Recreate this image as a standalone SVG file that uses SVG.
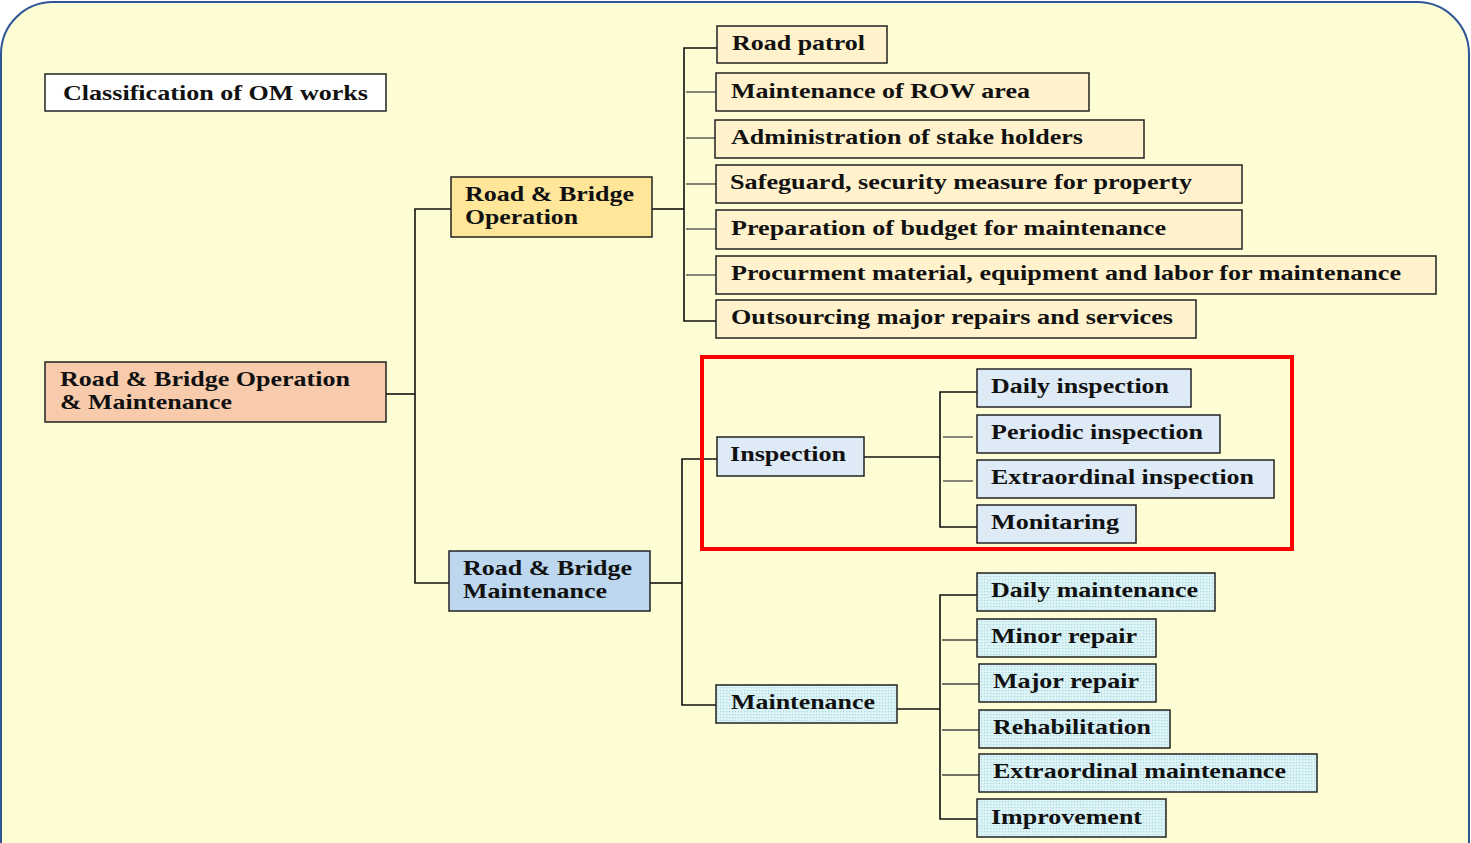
<svg xmlns="http://www.w3.org/2000/svg" width="1471" height="843" viewBox="0 0 1471 843">
  <defs>
    <pattern id="bgDots" width="4" height="4" patternUnits="userSpaceOnUse">
      <rect width="4" height="4" fill="#FEFDD0"/>
      <circle cx="1" cy="1" r="0.7" fill="#FFFFEE"/>
      <circle cx="3" cy="3" r="0.7" fill="#FFFFEE"/>
    </pattern>
    <pattern id="cyanGrid" width="3" height="3" patternUnits="userSpaceOnUse">
      <rect width="3" height="3" fill="#D8F1F4"/>
      <rect x="0" y="0" width="1" height="1" fill="#A8D8E0"/>
      <rect x="2" y="2" width="1" height="1" fill="#EAF8FA"/>
    </pattern>
    <style>
      .box { stroke: #222; stroke-width: 1.5; }
      .title { fill: #FFFFFF; }
      .root { fill: #F8CBAD; }
      .op { fill: #FFE699; }
      .opc { fill: #FFF2CC; }
      .mt { fill: #BDD7EE; }
      .ins { fill: #DEEBF7; }
      .mtc { fill: url(#cyanGrid); }
      text { font-family: "Liberation Serif", "Times New Roman", serif; font-weight: bold; font-size: 22px; fill: #111; }
      .conn line, .conn polyline { stroke: #111; stroke-width: 1.6; fill: none; }
      .conn .stub { stroke: #444; stroke-width: 1.3; }
    </style>
  </defs>

  <!-- page background -->
  <rect width="1471" height="843" fill="#FFFFFF"/>
  <rect x="1" y="2" width="1468" height="900" rx="52" ry="52" fill="url(#bgDots)" stroke="#2F5597" stroke-width="2"/>

  <!-- connectors -->
  <g id="connectors" class="conn">
    <!-- root to level 1 -->
    <line x1="386" y1="394" x2="415" y2="394"/>
    <polyline points="451,209 415,209 415,583 449,583"/>
    <!-- operation to its tasks -->
    <line x1="652" y1="209" x2="684" y2="209"/>
    <polyline points="717,48 684,48 684,321 716,321"/>
    <line class="stub" x1="686" y1="92" x2="716" y2="92"/>
    <line class="stub" x1="686" y1="138" x2="715" y2="138"/>
    <line class="stub" x1="686" y1="184" x2="716" y2="184"/>
    <line class="stub" x1="686" y1="229" x2="716" y2="229"/>
    <line class="stub" x1="686" y1="275" x2="716" y2="275"/>
    <!-- maintenance branch -->
    <line x1="650" y1="583" x2="682" y2="583"/>
    <polyline points="717,459 682,459 682,705 716,705"/>
    <!-- inspection items -->
    <line x1="864" y1="457" x2="940" y2="457"/>
    <polyline points="977,392 940,392 940,527 977,527"/>
    <line class="stub" x1="943" y1="437" x2="973" y2="437"/>
    <line class="stub" x1="943" y1="481" x2="973" y2="481"/>
    <!-- maintenance items -->
    <line x1="897" y1="709" x2="940" y2="709"/>
    <polyline points="977,595 940,595 940,819 977,819"/>
    <line class="stub" x1="942" y1="640" x2="977" y2="640"/>
    <line class="stub" x1="942" y1="684" x2="979" y2="684"/>
    <line class="stub" x1="942" y1="730" x2="979" y2="730"/>
    <line class="stub" x1="942" y1="775" x2="979" y2="775"/>
  </g>

  <!-- heading -->
  <g id="heading">
    <rect class="box title" x="45" y="74" width="341" height="37"/>
    <text x="63" y="100" textLength="305" lengthAdjust="spacingAndGlyphs">Classification of OM works</text>
  </g>

  <!-- root -->
  <g id="root">
    <rect class="box root" x="45" y="362" width="341" height="60"/>
    <text x="60" y="386" textLength="290" lengthAdjust="spacingAndGlyphs">Road &amp; Bridge Operation</text>
    <text x="60" y="409" textLength="172" lengthAdjust="spacingAndGlyphs">&amp; Maintenance</text>
  </g>

  <!-- level 1 -->
  <g id="operation">
    <rect class="box op" x="451" y="177" width="201" height="60"/>
    <text x="465" y="201" textLength="169" lengthAdjust="spacingAndGlyphs">Road &amp; Bridge</text>
    <text x="465" y="224" textLength="113" lengthAdjust="spacingAndGlyphs">Operation</text>
  </g>
  <g id="maintenance-group">
    <rect class="box mt" x="449" y="551" width="201" height="60"/>
    <text x="463" y="575" textLength="169" lengthAdjust="spacingAndGlyphs">Road &amp; Bridge</text>
    <text x="463" y="598" textLength="144" lengthAdjust="spacingAndGlyphs">Maintenance</text>
  </g>

  <!-- operation tasks -->
  <g id="road-patrol">
    <rect class="box opc" x="717" y="26" width="170" height="37"/>
    <text x="732" y="50" textLength="133" lengthAdjust="spacingAndGlyphs">Road patrol</text>
  </g>
  <g id="row-area">
    <rect class="box opc" x="716" y="73" width="373" height="38"/>
    <text x="731" y="98" textLength="299" lengthAdjust="spacingAndGlyphs">Maintenance of ROW area</text>
  </g>
  <g id="stake-holders">
    <rect class="box opc" x="715" y="120" width="429" height="38"/>
    <text x="731" y="144" textLength="352" lengthAdjust="spacingAndGlyphs">Administration of stake holders</text>
  </g>
  <g id="safeguard">
    <rect class="box opc" x="716" y="165" width="526" height="38"/>
    <text x="730" y="189" textLength="462" lengthAdjust="spacingAndGlyphs">Safeguard, security measure for property</text>
  </g>
  <g id="budget">
    <rect class="box opc" x="716" y="210" width="526" height="39"/>
    <text x="731" y="235" textLength="435" lengthAdjust="spacingAndGlyphs">Preparation of budget for maintenance</text>
  </g>
  <g id="procurement">
    <rect class="box opc" x="716" y="256" width="720" height="38"/>
    <text x="731" y="280" textLength="670" lengthAdjust="spacingAndGlyphs">Procurment material, equipment and labor for maintenance</text>
  </g>
  <g id="outsourcing">
    <rect class="box opc" x="716" y="300" width="480" height="38"/>
    <text x="731" y="324" textLength="442" lengthAdjust="spacingAndGlyphs">Outsourcing major repairs and services</text>
  </g>

  <!-- highlight frame around inspection -->
  <rect id="highlight" x="702" y="357" width="590" height="192" fill="none" stroke="#FF0000" stroke-width="4"/>

  <!-- inspection -->
  <g id="inspection">
    <rect class="box ins" x="717" y="437" width="147" height="39"/>
    <text x="730" y="461" textLength="116" lengthAdjust="spacingAndGlyphs">Inspection</text>
  </g>
  <g id="daily-inspection">
    <rect class="box ins" x="977" y="369" width="214" height="38"/>
    <text x="991" y="393" textLength="178" lengthAdjust="spacingAndGlyphs">Daily inspection</text>
  </g>
  <g id="periodic-inspection">
    <rect class="box ins" x="977" y="415" width="243" height="38"/>
    <text x="991" y="439" textLength="212" lengthAdjust="spacingAndGlyphs">Periodic inspection</text>
  </g>
  <g id="extraordinal-inspection">
    <rect class="box ins" x="977" y="460" width="297" height="38"/>
    <text x="991" y="484" textLength="263" lengthAdjust="spacingAndGlyphs">Extraordinal inspection</text>
  </g>
  <g id="monitaring">
    <rect class="box ins" x="977" y="505" width="159" height="38"/>
    <text x="991" y="529" textLength="128" lengthAdjust="spacingAndGlyphs">Monitaring</text>
  </g>

  <!-- maintenance -->
  <g id="maintenance">
    <rect class="box mtc" x="716" y="685" width="181" height="38"/>
    <text x="731" y="709" textLength="144" lengthAdjust="spacingAndGlyphs">Maintenance</text>
  </g>
  <g id="daily-maintenance">
    <rect class="box mtc" x="977" y="573" width="238" height="38"/>
    <text x="991" y="597" textLength="207" lengthAdjust="spacingAndGlyphs">Daily maintenance</text>
  </g>
  <g id="minor-repair">
    <rect class="box mtc" x="977" y="619" width="179" height="38"/>
    <text x="991" y="643" textLength="146" lengthAdjust="spacingAndGlyphs">Minor repair</text>
  </g>
  <g id="major-repair">
    <rect class="box mtc" x="979" y="664" width="177" height="38"/>
    <text x="993" y="688" textLength="146" lengthAdjust="spacingAndGlyphs">Major repair</text>
  </g>
  <g id="rehabilitation">
    <rect class="box mtc" x="979" y="710" width="191" height="38"/>
    <text x="993" y="734" textLength="158" lengthAdjust="spacingAndGlyphs">Rehabilitation</text>
  </g>
  <g id="extraordinal-maintenance">
    <rect class="box mtc" x="979" y="754" width="338" height="38"/>
    <text x="993" y="778" textLength="293" lengthAdjust="spacingAndGlyphs">Extraordinal maintenance</text>
  </g>
  <g id="improvement">
    <rect class="box mtc" x="977" y="799" width="189" height="38"/>
    <text x="991" y="824" textLength="151" lengthAdjust="spacingAndGlyphs">Improvement</text>
  </g>
</svg>
